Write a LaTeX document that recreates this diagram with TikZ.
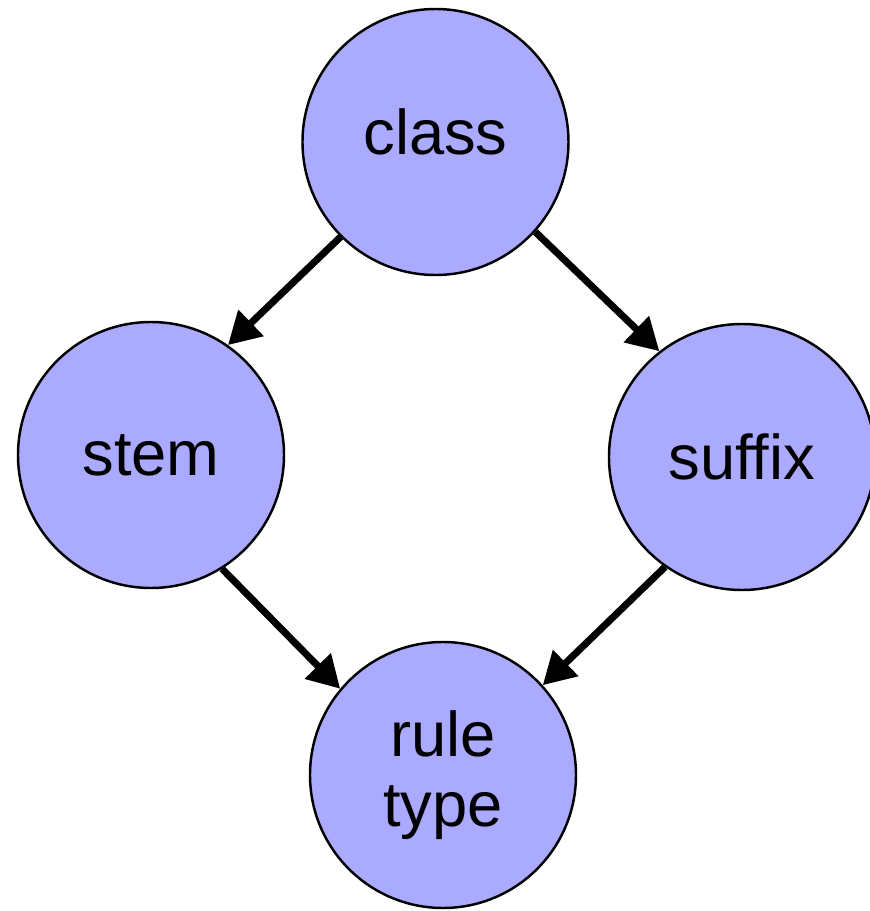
\documentclass[tikz,border=0pt]{standalone}
\usepackage{fontspec}
\setmainfont{Liberation Sans}
\usepackage{tikz}
\usetikzlibrary{arrows.meta}
\definecolor{varblue}{RGB}{170,170,255}

\begin{document}
\begin{tikzpicture}[
    var/.style={circle,draw=black,line width=0.7pt,fill=varblue,minimum size=2.66cm,inner sep=0pt,
      align=center,font=\fontsize{18}{20}\selectfont},
    dep/.style={-{Triangle[length=0.32cm,width=0.35cm]},line width=2pt}]
  \useasboundingbox (0,0) rectangle (8.7,9.11);
  \node[var,text depth=0.2cm] (class) at (4.355,7.69) {class};
  \node[var] (stem) at (1.51,4.56) {stem};
  \node[var] (suffix) at (7.42,4.54) {suffix};
  \node[var] (rule) at (4.43,1.36) {rule\\type};
  \draw[dep] (class.-135) -- (stem.55);
  \draw[dep] (class.-42) -- (suffix.128);
  \draw[dep] (stem.-58) -- (rule.140);
  \draw[dep] (suffix.-125) -- (rule.42);
\end{tikzpicture}
\end{document}
